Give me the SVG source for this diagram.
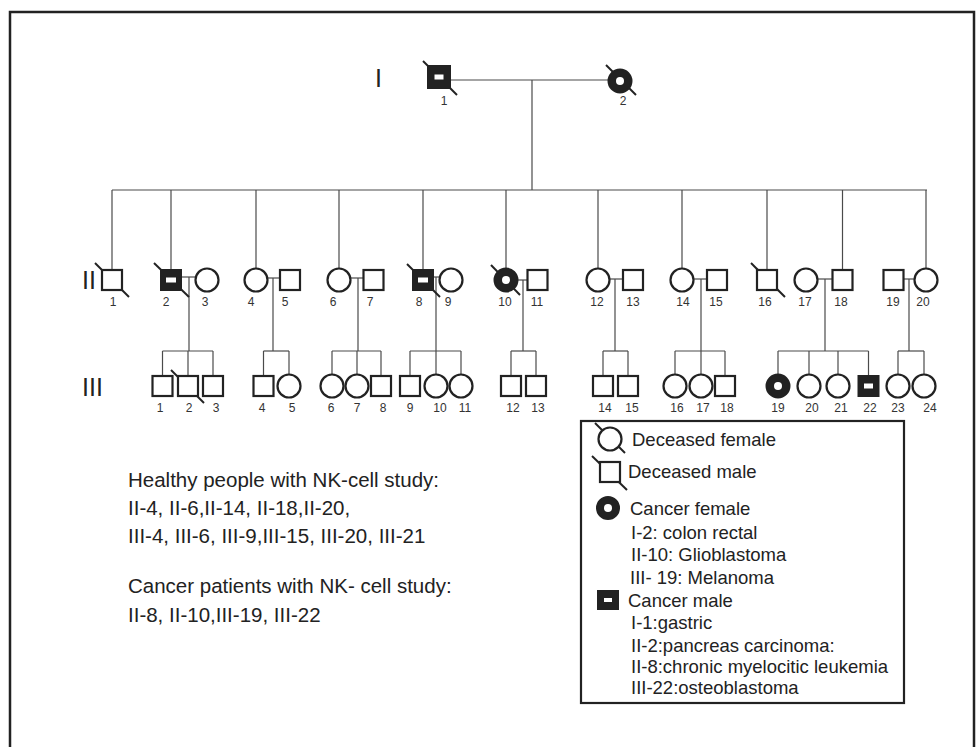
<svg xmlns="http://www.w3.org/2000/svg" width="980" height="747" viewBox="0 0 980 747">
<style>
.ln{stroke:#4a4a4a;stroke-width:1.2;fill:none}
.sym{stroke:#222;stroke-width:2.2;fill:#fff}
.fill{fill:#222;stroke:#222;stroke-width:2}
.dg{stroke:#222;stroke-width:2;fill:none}
.hole{fill:#fff;stroke:none}
.num{font-family:"Liberation Sans",Arial,sans-serif;font-size:12px;fill:#333;text-anchor:middle}
.gen{font-family:"Liberation Sans",Arial,sans-serif;font-size:25px;fill:#222}
.txt{font-family:"Liberation Sans",Arial,sans-serif;font-size:20.5px;fill:#222}
.lg{font-family:"Liberation Sans",Arial,sans-serif;font-size:18.5px;fill:#222}
</style>
<rect x="0" y="0" width="980" height="747" fill="#fff"/>
<rect x="10" y="12" width="964" height="745" fill="none" stroke="#222" stroke-width="2.5"/>

<g id="gen-labels">
<text class="gen" x="375" y="87">I</text>
<text class="gen" x="82" y="289">II</text>
<text class="gen" x="82" y="396">III</text>
</g>

<g id="connectors">
<line class="ln" x1="450" y1="80" x2="608" y2="80"/>
<line class="ln" x1="532" y1="80" x2="532" y2="190"/>
<line class="ln" x1="112" y1="190" x2="927" y2="190"/>
<line class="ln" x1="112" y1="190" x2="112" y2="270"/>
<line class="ln" x1="171" y1="190" x2="171" y2="270"/>
<line class="ln" x1="256" y1="190" x2="256" y2="268.5"/>
<line class="ln" x1="339" y1="190" x2="339" y2="268.5"/>
<line class="ln" x1="423" y1="190" x2="423" y2="270"/>
<line class="ln" x1="506" y1="190" x2="506" y2="268.5"/>
<line class="ln" x1="598" y1="190" x2="598" y2="268.5"/>
<line class="ln" x1="682" y1="190" x2="682" y2="268.5"/>
<line class="ln" x1="767" y1="190" x2="767" y2="270"/>
<line class="ln" x1="842.5" y1="190" x2="842.5" y2="270"/>
<line class="ln" x1="926" y1="190" x2="926" y2="268.5"/>
<line class="ln" x1="181" y1="277" x2="195.5" y2="277"/>
<line class="ln" x1="189" y1="277" x2="189" y2="351"/>
<line class="ln" x1="267.5" y1="278" x2="280" y2="278"/>
<line class="ln" x1="273" y1="278" x2="273" y2="351"/>
<line class="ln" x1="350.5" y1="278" x2="363.5" y2="278"/>
<line class="ln" x1="358" y1="278" x2="358" y2="351"/>
<line class="ln" x1="433" y1="277" x2="439.5" y2="277"/>
<line class="ln" x1="436" y1="277" x2="436" y2="351"/>
<line class="ln" x1="517.5" y1="280" x2="527.5" y2="280"/>
<line class="ln" x1="523" y1="280" x2="523" y2="351"/>
<line class="ln" x1="609.5" y1="279" x2="623" y2="279"/>
<line class="ln" x1="615" y1="279" x2="615" y2="351"/>
<line class="ln" x1="693.5" y1="279" x2="707" y2="279"/>
<line class="ln" x1="701" y1="279" x2="701" y2="351"/>
<line class="ln" x1="817.5" y1="279" x2="832.5" y2="279"/>
<line class="ln" x1="825" y1="279" x2="825" y2="351"/>
<line class="ln" x1="903.5" y1="279" x2="914.5" y2="279"/>
<line class="ln" x1="909" y1="279" x2="909" y2="351"/>
<line class="ln" x1="162.5" y1="351" x2="213" y2="351"/>
<line class="ln" x1="162.5" y1="351" x2="162.5" y2="376"/>
<line class="ln" x1="188" y1="351" x2="188" y2="376"/>
<line class="ln" x1="213" y1="351" x2="213" y2="376"/>
<line class="ln" x1="263.5" y1="351" x2="289" y2="351"/>
<line class="ln" x1="263.5" y1="351" x2="263.5" y2="376"/>
<line class="ln" x1="289" y1="351" x2="289" y2="374.5"/>
<line class="ln" x1="332" y1="351" x2="381" y2="351"/>
<line class="ln" x1="332" y1="351" x2="332" y2="374.5"/>
<line class="ln" x1="357" y1="351" x2="357" y2="374.5"/>
<line class="ln" x1="381" y1="351" x2="381" y2="376"/>
<line class="ln" x1="410" y1="351" x2="461" y2="351"/>
<line class="ln" x1="410" y1="351" x2="410" y2="376"/>
<line class="ln" x1="436" y1="351" x2="436" y2="374.5"/>
<line class="ln" x1="461" y1="351" x2="461" y2="374.5"/>
<line class="ln" x1="511" y1="351" x2="536" y2="351"/>
<line class="ln" x1="511" y1="351" x2="511" y2="376"/>
<line class="ln" x1="536" y1="351" x2="536" y2="376"/>
<line class="ln" x1="603" y1="351" x2="628" y2="351"/>
<line class="ln" x1="603" y1="351" x2="603" y2="376"/>
<line class="ln" x1="628" y1="351" x2="628" y2="376"/>
<line class="ln" x1="675" y1="351" x2="725" y2="351"/>
<line class="ln" x1="675" y1="351" x2="675" y2="374.5"/>
<line class="ln" x1="701" y1="351" x2="701" y2="374.5"/>
<line class="ln" x1="725" y1="351" x2="725" y2="376"/>
<line class="ln" x1="778" y1="351" x2="868.5" y2="351"/>
<line class="ln" x1="778" y1="351" x2="778" y2="374.5"/>
<line class="ln" x1="809" y1="351" x2="809" y2="374.5"/>
<line class="ln" x1="838" y1="351" x2="838" y2="374.5"/>
<line class="ln" x1="868.5" y1="351" x2="868.5" y2="376"/>
<line class="ln" x1="898" y1="351" x2="924" y2="351"/>
<line class="ln" x1="898" y1="351" x2="898" y2="374.5"/>
<line class="ln" x1="924" y1="351" x2="924" y2="374.5"/>
</g>

<!-- Generation I -->
<g id="I-1"><line class="dg" x1="423" y1="61" x2="457" y2="95"/><rect class="fill" x="428" y="66" width="22" height="22"/><rect class="hole" x="434.5" y="74.5" width="9" height="5"/><text class="num" x="444" y="105">1</text></g>
<g id="I-2"><line class="dg" x1="606" y1="65" x2="636" y2="95"/><circle class="fill" cx="620" cy="81" r="11.5"/><circle class="hole" cx="620" cy="81" r="4"/><text class="num" x="623" y="105">2</text></g>

<!-- Generation II -->
<g id="II-1"><line class="dg" x1="95" y1="263" x2="129" y2="297"/><rect class="sym" x="102" y="270" width="20" height="20"/><text class="num" x="113" y="306">1</text></g>
<g id="II-2"><line class="dg" x1="154" y1="263" x2="189" y2="297"/><rect class="fill" x="161" y="270" width="20" height="20"/><rect class="hole" x="166" y="277.5" width="10" height="5"/><text class="num" x="166" y="306">2</text></g>
<g id="II-3"><circle class="sym" cx="207" cy="280" r="11.5"/><text class="num" x="205" y="306">3</text></g>
<g id="II-4"><circle class="sym" cx="256" cy="280" r="11.5"/><text class="num" x="251" y="306">4</text></g>
<g id="II-5"><rect class="sym" x="280" y="270" width="20" height="20"/><text class="num" x="285" y="306">5</text></g>
<g id="II-6"><circle class="sym" cx="339" cy="280" r="11.5"/><text class="num" x="333" y="306">6</text></g>
<g id="II-7"><rect class="sym" x="363.5" y="270" width="20" height="20"/><text class="num" x="370" y="306">7</text></g>
<g id="II-8"><line class="dg" x1="407" y1="264" x2="440" y2="297"/><rect class="fill" x="413" y="270" width="20" height="20"/><rect class="hole" x="418" y="277.5" width="10" height="5"/><text class="num" x="419" y="306">8</text></g>
<g id="II-9"><circle class="sym" cx="451" cy="280" r="11.5"/><text class="num" x="448" y="306">9</text></g>
<g id="II-10"><line class="dg" x1="491" y1="265" x2="520" y2="295"/><circle class="fill" cx="506" cy="280" r="11.5"/><circle class="hole" cx="506" cy="280" r="4"/><text class="num" x="505" y="306">10</text></g>
<g id="II-11"><rect class="sym" x="527.5" y="270" width="20" height="20"/><text class="num" x="537" y="306">11</text></g>
<g id="II-12"><circle class="sym" cx="598" cy="280" r="11.5"/><text class="num" x="597" y="306">12</text></g>
<g id="II-13"><rect class="sym" x="623" y="270" width="20" height="20"/><text class="num" x="633" y="306">13</text></g>
<g id="II-14"><circle class="sym" cx="682" cy="280" r="11.5"/><text class="num" x="683" y="306">14</text></g>
<g id="II-15"><rect class="sym" x="707" y="270" width="20" height="20"/><text class="num" x="716" y="306">15</text></g>
<g id="II-16"><line class="dg" x1="751" y1="263" x2="785" y2="297"/><rect class="sym" x="757" y="270" width="20" height="20"/><text class="num" x="765" y="306">16</text></g>
<g id="II-17"><circle class="sym" cx="806" cy="280" r="11.5"/><text class="num" x="805" y="306">17</text></g>
<g id="II-18"><rect class="sym" x="832.5" y="270" width="20" height="20"/><text class="num" x="841" y="306">18</text></g>
<g id="II-19"><rect class="sym" x="883.5" y="270" width="20" height="20"/><text class="num" x="893" y="306">19</text></g>
<g id="II-20"><circle class="sym" cx="926" cy="280" r="11.5"/><text class="num" x="923" y="306">20</text></g>

<!-- Generation III -->
<g id="III-1"><rect class="sym" x="152.5" y="376" width="20" height="20"/><text class="num" x="160" y="412">1</text></g>
<g id="III-2"><line class="dg" x1="171" y1="370" x2="204" y2="403"/><rect class="sym" x="178" y="376" width="20" height="20"/><text class="num" x="189" y="412">2</text></g>
<g id="III-3"><rect class="sym" x="203" y="376" width="20" height="20"/><text class="num" x="216" y="412">3</text></g>
<g id="III-4"><rect class="sym" x="253.5" y="376" width="20" height="20"/><text class="num" x="262" y="412">4</text></g>
<g id="III-5"><circle class="sym" cx="289" cy="386" r="11.5"/><text class="num" x="292" y="412">5</text></g>
<g id="III-6"><circle class="sym" cx="332" cy="386" r="11.5"/><text class="num" x="331" y="412">6</text></g>
<g id="III-7"><circle class="sym" cx="357" cy="386" r="11.5"/><text class="num" x="357" y="412">7</text></g>
<g id="III-8"><rect class="sym" x="371" y="376" width="20" height="20"/><text class="num" x="383" y="412">8</text></g>
<g id="III-9"><rect class="sym" x="400" y="376" width="20" height="20"/><text class="num" x="410" y="412">9</text></g>
<g id="III-10"><circle class="sym" cx="436" cy="386" r="11.5"/><text class="num" x="440" y="412">10</text></g>
<g id="III-11"><circle class="sym" cx="461" cy="386" r="11.5"/><text class="num" x="465" y="412">11</text></g>
<g id="III-12"><rect class="sym" x="501" y="376" width="20" height="20"/><text class="num" x="513" y="412">12</text></g>
<g id="III-13"><rect class="sym" x="526" y="376" width="20" height="20"/><text class="num" x="538" y="412">13</text></g>
<g id="III-14"><rect class="sym" x="593" y="376" width="20" height="20"/><text class="num" x="605" y="412">14</text></g>
<g id="III-15"><rect class="sym" x="618" y="376" width="20" height="20"/><text class="num" x="632" y="412">15</text></g>
<g id="III-16"><circle class="sym" cx="675" cy="386" r="11.5"/><text class="num" x="677" y="412">16</text></g>
<g id="III-17"><circle class="sym" cx="701" cy="386" r="11.5"/><text class="num" x="703" y="412">17</text></g>
<g id="III-18"><rect class="sym" x="715" y="376" width="20" height="20"/><text class="num" x="727" y="412">18</text></g>
<g id="III-19"><circle class="fill" cx="778" cy="386" r="11.5"/><circle class="hole" cx="778" cy="386" r="4"/><text class="num" x="778" y="412">19</text></g>
<g id="III-20"><circle class="sym" cx="809" cy="386" r="11.5"/><text class="num" x="812" y="412">20</text></g>
<g id="III-21"><circle class="sym" cx="838" cy="386" r="11.5"/><text class="num" x="841" y="412">21</text></g>
<g id="III-22"><rect class="fill" x="858.5" y="376" width="20" height="20"/><rect class="hole" x="864" y="383.5" width="9" height="5"/><text class="num" x="870" y="412">22</text></g>
<g id="III-23"><circle class="sym" cx="898" cy="386" r="11.5"/><text class="num" x="898" y="412">23</text></g>
<g id="III-24"><circle class="sym" cx="924" cy="386" r="11.5"/><text class="num" x="930" y="412">24</text></g>

<g id="notes">
<text class="txt" x="128" y="487">Healthy people with NK-cell study:</text>
<text class="txt" x="128" y="515">II-4, II-6,II-14, II-18,II-20,</text>
<text class="txt" x="128" y="543">III-4, III-6, III-9,III-15,  III-20, III-21</text>
<text class="txt" x="128" y="593">Cancer patients with NK- cell study:</text>
<text class="txt" x="128" y="622">II-8, II-10,III-19, III-22</text>
</g>

<g id="legend">
<rect x="581" y="421" width="323" height="282" fill="none" stroke="#222" stroke-width="2.2"/>
<line class="dg" x1="595" y1="423" x2="625" y2="453"/><circle class="sym" cx="610" cy="439" r="11.5"/>
<text class="lg" x="632" y="446">Deceased female</text>
<line class="dg" x1="592" y1="456" x2="627" y2="490"/><rect class="sym" x="600" y="462" width="20" height="20"/>
<text class="lg" x="628" y="478">Deceased male</text>
<circle class="fill" cx="608" cy="508" r="11"/><circle class="hole" cx="608" cy="508" r="4"/>
<text class="lg" x="630" y="515">Cancer female</text>
<text class="lg" x="631" y="539">I-2: colon rectal</text>
<text class="lg" x="631" y="561">II-10: Glioblastoma</text>
<text class="lg" x="630" y="584">III- 19: Melanoma</text>
<rect class="fill" x="598" y="591" width="20" height="18"/><rect class="hole" x="604" y="598" width="8" height="4"/>
<text class="lg" x="628" y="607">Cancer male</text>
<text class="lg" x="631" y="629">I-1:gastric</text>
<text class="lg" x="631" y="652">II-2:pancreas carcinoma:</text>
<text class="lg" x="631" y="673">II-8:chronic myelocitic leukemia</text>
<text class="lg" x="631" y="694">III-22:osteoblastoma</text>
</g>
</svg>
